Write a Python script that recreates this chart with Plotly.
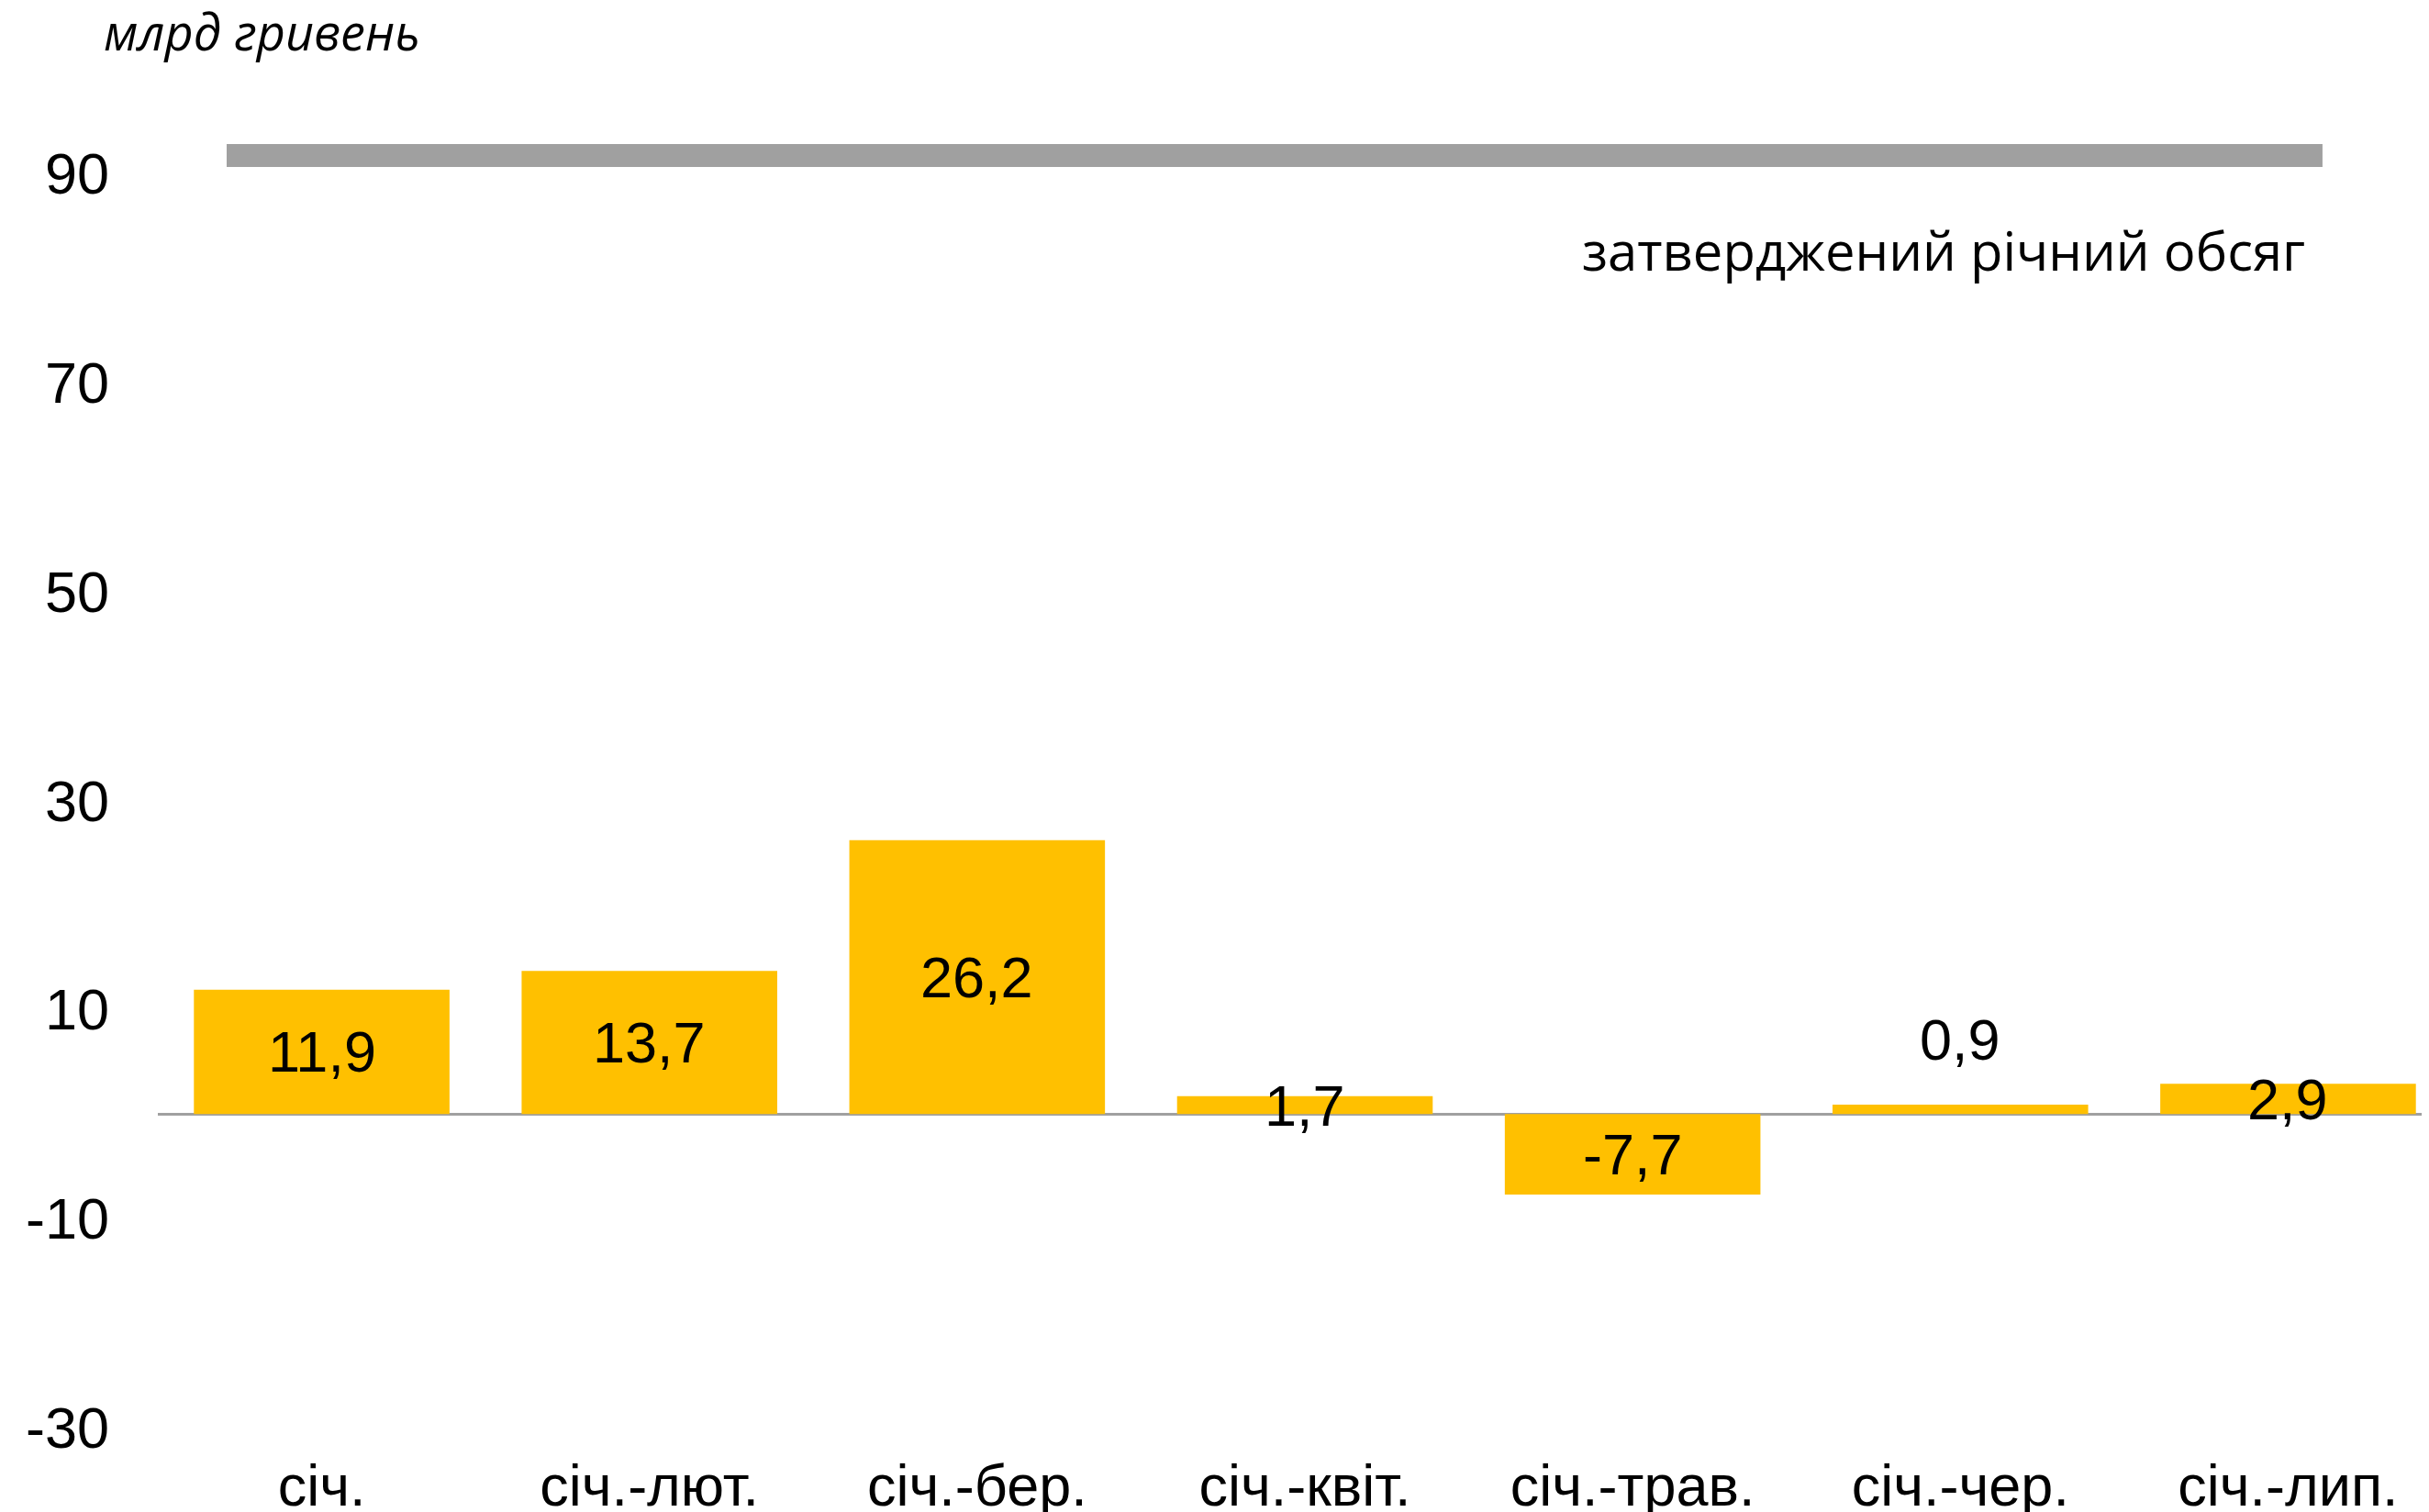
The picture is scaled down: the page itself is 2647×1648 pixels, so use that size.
import plotly.graph_objects as go

# ---- data ----
categories = ["січ.", "січ.-лют.", "січ.-бер.", "січ.-квіт.", "січ.-трав.", "січ.-чер.", "січ.-лип."]
values = [11.9, 13.7, 26.2, 1.7, -7.7, 0.9, 2.9]
value_labels = ["11,9", "13,7", "26,2", "1,7", "-7,7", "0,9", "2,9"]
approved_annual = 91.7
y_ticks = [-30, -10, 10, 30, 50, 70, 90]
y_tick_labels = ["-30", "-10", "10", "30", "50", "70", "90"]
unit_label = "млрд гривень"
line_label = "затверджений річний обсяг"

# ---- styling / layout constants ----
# the page body adds an 8px margin around the figure; compensate for it
OFF = 8
W, H = 2647, 1648
ML, MT = 172 - OFF, 75 - OFF
PW, PH = 2475, 1481
MR = W - ML - PW
MB = H - MT - PH
BAR_COLOR = "#FFC000"
LINE_COLOR = "#A0A0A0"
TICK_FONT = dict(family="Liberation Sans, Arial, sans-serif", size=63, color="#000000")
LINE_X = [-0.29, 6.105]

x_pos = list(range(len(categories)))

fig = go.Figure()
fig.add_trace(go.Bar(
    x=x_pos, y=values,
    marker=dict(color=BAR_COLOR, line=dict(width=0)),
    hoverinfo="skip", showlegend=False,
))
fig.add_trace(go.Scatter(
    x=LINE_X, y=[approved_annual, approved_annual],
    mode="lines", line=dict(color=LINE_COLOR, width=25),
    hoverinfo="skip", showlegend=False,
))

annotations = []
for xi, v, lab in zip(x_pos, values, value_labels):
    if abs(v) < 1.2:
        annotations.append(dict(x=xi, y=v, xref="x", yref="y", text=lab,
                                showarrow=False, font=TICK_FONT,
                                xanchor="center", yanchor="middle", yshift=71))
    else:
        annotations.append(dict(x=xi, y=v / 2, xref="x", yref="y", text=lab,
                                showarrow=False, font=TICK_FONT,
                                xanchor="center", yanchor="middle"))

annotations.append(dict(
    x=6.058, y=82.7, xref="x", yref="y", text=line_label, showarrow=False,
    xanchor="right", yanchor="middle",
    font=dict(family="Open Sans, Noto Sans, sans-serif", size=58, color="#000000"),
))
annotations.append(dict(
    x=(103 - ML) / PW, y=(H - MB - 26) / PH, xref="paper", yref="paper",
    text=unit_label, showarrow=False, xanchor="left", yanchor="middle",
    font=dict(family="Open Sans, Noto Sans, sans-serif", size=54, color="#000000", style="italic"),
))

fig.update_layout(
    width=W, height=H,
    margin=dict(l=ML, r=MR, t=MT, b=MB, pad=0, autoexpand=False),
    paper_bgcolor="white", plot_bgcolor="white",
    bargap=0.22,
    annotations=annotations,
    showlegend=False,
)
fig.update_xaxes(
    range=[-0.5, 6.43], automargin=False,
    tickmode="array", tickvals=x_pos, ticktext=categories,
    showgrid=False, zeroline=False, showline=False, ticks="",
    tickfont=TICK_FONT, ticklabelstandoff=21,
)
fig.update_yaxes(
    range=[-30, 100], automargin=False,
    tickmode="array", tickvals=y_ticks, ticktext=y_tick_labels,
    showgrid=False, zeroline=True, zerolinecolor=LINE_COLOR, zerolinewidth=3,
    showline=False, ticks="", tickfont=TICK_FONT, ticklabelstandoff=52,
)

fig.write_html("out.html")
